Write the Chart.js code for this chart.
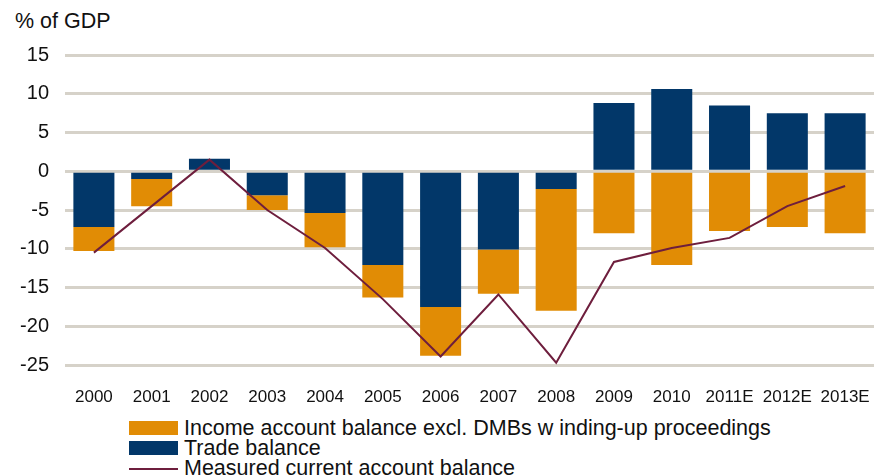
<!doctype html>
<html lang="en">
  <head>
    <meta charset="utf-8">
    <title>Current account balance, % of GDP</title>
    <style>
      * {
        margin: 0;
        padding: 0;
      }
      body {
        width: 874px;
        height: 476px;
        overflow: hidden;
        background: #fff;
        font-family: 'Liberation Sans', Arial, sans-serif;
        color: #111;
        position: relative;
      }
      .unit {
        position: absolute;
        left: 15px;
        top: 8px;
        font-size: 21.5px;
        line-height: 26px;
      }
      #myChart {
        position: absolute;
        left: 0;
        top: 0;
      }
      #legend {
        position: absolute;
        left: 129px;
        top: 418px;
        font-size: 21.5px;
        line-height: 20px;
        list-style: none;
      }
      #legend li {
        position: relative;
        height: 20px;
        padding-left: 55px;
        white-space: pre;
      }
      #legend .box {
        position: absolute;
        left: 0;
        top: 3px;
        width: 49px;
        height: 14px;
      }
      #legend .ln {
        position: absolute;
        left: 0;
        top: 10px;
        width: 49px;
        height: 2px;
      }
    </style>
  </head>
  <body>
    <div class="unit">% of GDP</div>
    <canvas id="myChart" width="874" height="410"></canvas>
    <ul id="legend"></ul>

    <script src="https://cdn.jsdelivr.net/npm/chart.js/dist/chart.umd.min.js"></script>
    <script>
// data
const years = ['2000', '2001', '2002', '2003', '2004', '2005', '2006',
  '2007', '2008', '2009', '2010', '2011E', '2012E', '2013E'];
const tradeBalance = [-7.2, -1.0, 1.6, -3.1, -5.4, -12.1, -17.5, -10.1, -2.3, 8.8, 10.6, 8.5, 7.5, 7.5];
const incomeBalance = [-3.1, -3.5, -0.2, -1.9, -4.4, -4.2, -6.3, -5.7, -15.7, -8.0, -12.1, -7.7, -7.2, -8.0];
const currentAccount = [-10.5, -4.5, 1.5, -5.0, -9.9, -16.5, -23.9, -15.9, -24.7, -11.7, -9.9, -8.6, -4.5, -1.9];
const yTicks = [15, 10, 5, 0, -5, -10, -15, -20, -25];

const navy = '#023769';
const orange = '#e18c05';
const maroon = '#6e1e3d';

// trade balance first so it sits next to zero in the stack
const data = {
  labels: years,
  datasets: [{
    label: 'Trade balance',
    data: tradeBalance,
    backgroundColor: navy,
    stack: 'bars',
    order: 1,
    barPercentage: 0.71,
    categoryPercentage: 1
  }, {
    label: 'Income account balance excl. DMBs w inding-up proceedings',
    data: incomeBalance,
    backgroundColor: orange,
    stack: 'bars',
    order: 1,
    barPercentage: 0.71,
    categoryPercentage: 1
  }, {
    type: 'line',
    label: 'Measured current account balance',
    data: currentAccount,
    borderColor: maroon,
    borderWidth: 2,
    pointRadius: 0,
    tension: 0,
    stack: 'ca',
    order: 0
  }]
};

const config = {
  type: 'bar',
  data,
  options: {
    responsive: false,
    animation: false,
    devicePixelRatio: 1,
    layout: {
      padding: { top: 55, right: 0, bottom: 0, left: 0 }
    },
    plugins: {
      legend: { display: false },
      tooltip: { enabled: false }
    },
    scales: {
      x: {
        stacked: true,
        // invisible tick marks push the labels down without adding side padding
        grid: { display: false, drawTicks: true, tickLength: 22 },
        border: { display: false },
        ticks: {
          color: '#111',
          padding: 0,
          maxRotation: 0,
          autoSkip: false,
          font: { family: "'Liberation Sans', Arial, sans-serif", size: 17 }
        },
        afterFit: scale => { scale.height = 45; }
      },
      y: {
        stacked: true,
        min: -25,
        max: 15,
        afterBuildTicks: scale => {
          scale.ticks = yTicks.map(v => ({ value: v }));
        },
        grid: {
          color: '#d6d2c9',
          lineWidth: 3,
          drawTicks: false
        },
        border: { display: false },
        ticks: {
          color: '#111',
          padding: 16,
          font: { family: "'Liberation Sans', Arial, sans-serif", size: 20 }
        },
        afterFit: scale => { scale.width = 65; }
      }
    }
  }
};

const myChart = new Chart(document.getElementById('myChart'), config);

// legend in the order of the original: income, trade, line
const legend = document.getElementById('legend');
[1, 0, 2].forEach(i => {
  const ds = myChart.data.datasets[i];
  const li = document.createElement('li');
  const mark = document.createElement('span');
  if (ds.type === 'line') {
    mark.className = 'ln';
    mark.style.background = ds.borderColor;
  } else {
    mark.className = 'box';
    mark.style.background = ds.backgroundColor;
  }
  li.appendChild(mark);
  li.appendChild(document.createTextNode(ds.label));
  legend.appendChild(li);
});
    </script>
  </body>
</html>
